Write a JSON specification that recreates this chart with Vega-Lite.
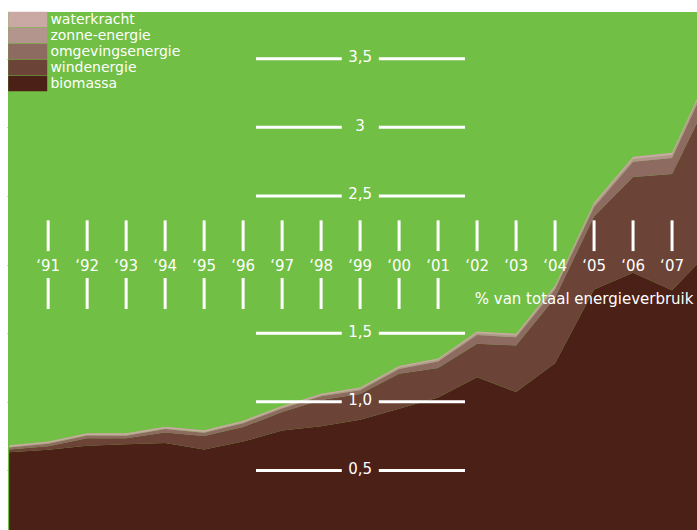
{
  "$schema": "https://vega.github.io/schema/vega-lite/v6.json",
  "width": 689,
  "height": 518,
  "autosize": {"type": "none"},
  "padding": {"left": 8, "top": 12, "right": 0, "bottom": 0},
  "background": "white",
  "config": {
    "view": {"fill": "#71bf44", "stroke": null},
    "font": "DejaVu Sans"
  },
  "datasets": {
    "aandeel": [
      {"jaar": 1990, "bron": "biomassa", "waarde": 0.633}, {"jaar": 1990, "bron": "windenergie", "waarde": 0.020}, {"jaar": 1990, "bron": "omgevingsenergie", "waarde": 0.014}, {"jaar": 1990, "bron": "zonne-energie", "waarde": 0.004}, {"jaar": 1990, "bron": "waterkracht", "waarde": 0.012},
      {"jaar": 1991, "bron": "biomassa", "waarde": 0.651}, {"jaar": 1991, "bron": "windenergie", "waarde": 0.026}, {"jaar": 1991, "bron": "omgevingsenergie", "waarde": 0.018}, {"jaar": 1991, "bron": "zonne-energie", "waarde": 0.004}, {"jaar": 1991, "bron": "waterkracht", "waarde": 0.012},
      {"jaar": 1992, "bron": "biomassa", "waarde": 0.680}, {"jaar": 1992, "bron": "windenergie", "waarde": 0.055}, {"jaar": 1992, "bron": "omgevingsenergie", "waarde": 0.019}, {"jaar": 1992, "bron": "zonne-energie", "waarde": 0.004}, {"jaar": 1992, "bron": "waterkracht", "waarde": 0.012},
      {"jaar": 1993, "bron": "biomassa", "waarde": 0.690}, {"jaar": 1993, "bron": "windenergie", "waarde": 0.045}, {"jaar": 1993, "bron": "omgevingsenergie", "waarde": 0.018}, {"jaar": 1993, "bron": "zonne-energie", "waarde": 0.005}, {"jaar": 1993, "bron": "waterkracht", "waarde": 0.012},
      {"jaar": 1994, "bron": "biomassa", "waarde": 0.700}, {"jaar": 1994, "bron": "windenergie", "waarde": 0.076}, {"jaar": 1994, "bron": "omgevingsenergie", "waarde": 0.025}, {"jaar": 1994, "bron": "zonne-energie", "waarde": 0.005}, {"jaar": 1994, "bron": "waterkracht", "waarde": 0.012},
      {"jaar": 1995, "bron": "biomassa", "waarde": 0.653}, {"jaar": 1995, "bron": "windenergie", "waarde": 0.097}, {"jaar": 1995, "bron": "omgevingsenergie", "waarde": 0.025}, {"jaar": 1995, "bron": "zonne-energie", "waarde": 0.005}, {"jaar": 1995, "bron": "waterkracht", "waarde": 0.012},
      {"jaar": 1996, "bron": "biomassa", "waarde": 0.710}, {"jaar": 1996, "bron": "windenergie", "waarde": 0.106}, {"jaar": 1996, "bron": "omgevingsenergie", "waarde": 0.028}, {"jaar": 1996, "bron": "zonne-energie", "waarde": 0.006}, {"jaar": 1996, "bron": "waterkracht", "waarde": 0.012},
      {"jaar": 1997, "bron": "biomassa", "waarde": 0.791}, {"jaar": 1997, "bron": "windenergie", "waarde": 0.134}, {"jaar": 1997, "bron": "omgevingsenergie", "waarde": 0.027}, {"jaar": 1997, "bron": "zonne-energie", "waarde": 0.006}, {"jaar": 1997, "bron": "waterkracht", "waarde": 0.012},
      {"jaar": 1998, "bron": "biomassa", "waarde": 0.821}, {"jaar": 1998, "bron": "windenergie", "waarde": 0.193}, {"jaar": 1998, "bron": "omgevingsenergie", "waarde": 0.026}, {"jaar": 1998, "bron": "zonne-energie", "waarde": 0.007}, {"jaar": 1998, "bron": "waterkracht", "waarde": 0.012},
      {"jaar": 1999, "bron": "biomassa", "waarde": 0.869}, {"jaar": 1999, "bron": "windenergie", "waarde": 0.188}, {"jaar": 1999, "bron": "omgevingsenergie", "waarde": 0.028}, {"jaar": 1999, "bron": "zonne-energie", "waarde": 0.008}, {"jaar": 1999, "bron": "waterkracht", "waarde": 0.012},
      {"jaar": 2000, "bron": "biomassa", "waarde": 0.950}, {"jaar": 2000, "bron": "windenergie", "waarde": 0.255}, {"jaar": 2000, "bron": "omgevingsenergie", "waarde": 0.034}, {"jaar": 2000, "bron": "zonne-energie", "waarde": 0.009}, {"jaar": 2000, "bron": "waterkracht", "waarde": 0.012},
      {"jaar": 2001, "bron": "biomassa", "waarde": 1.032}, {"jaar": 2001, "bron": "windenergie", "waarde": 0.214}, {"jaar": 2001, "bron": "omgevingsenergie", "waarde": 0.048}, {"jaar": 2001, "bron": "zonne-energie", "waarde": 0.010}, {"jaar": 2001, "bron": "waterkracht", "waarde": 0.012},
      {"jaar": 2002, "bron": "biomassa", "waarde": 1.178}, {"jaar": 2002, "bron": "windenergie", "waarde": 0.245}, {"jaar": 2002, "bron": "omgevingsenergie", "waarde": 0.064}, {"jaar": 2002, "bron": "zonne-energie", "waarde": 0.012}, {"jaar": 2002, "bron": "waterkracht", "waarde": 0.013},
      {"jaar": 2003, "bron": "biomassa", "waarde": 1.071}, {"jaar": 2003, "bron": "windenergie", "waarde": 0.340}, {"jaar": 2003, "bron": "omgevingsenergie", "waarde": 0.059}, {"jaar": 2003, "bron": "zonne-energie", "waarde": 0.013}, {"jaar": 2003, "bron": "waterkracht", "waarde": 0.013},
      {"jaar": 2004, "bron": "biomassa", "waarde": 1.280}, {"jaar": 2004, "bron": "windenergie", "waarde": 0.478}, {"jaar": 2004, "bron": "omgevingsenergie", "waarde": 0.062}, {"jaar": 2004, "bron": "zonne-energie", "waarde": 0.015}, {"jaar": 2004, "bron": "waterkracht", "waarde": 0.013},
      {"jaar": 2005, "bron": "biomassa", "waarde": 1.818}, {"jaar": 2005, "bron": "windenergie", "waarde": 0.532}, {"jaar": 2005, "bron": "omgevingsenergie", "waarde": 0.069}, {"jaar": 2005, "bron": "zonne-energie", "waarde": 0.017}, {"jaar": 2005, "bron": "waterkracht", "waarde": 0.014},
      {"jaar": 2006, "bron": "biomassa", "waarde": 1.940}, {"jaar": 2006, "bron": "windenergie", "waarde": 0.698}, {"jaar": 2006, "bron": "omgevingsenergie", "waarde": 0.111}, {"jaar": 2006, "bron": "zonne-energie", "waarde": 0.020}, {"jaar": 2006, "bron": "waterkracht", "waarde": 0.016},
      {"jaar": 2007, "bron": "biomassa", "waarde": 1.812}, {"jaar": 2007, "bron": "windenergie", "waarde": 0.848}, {"jaar": 2007, "bron": "omgevingsenergie", "waarde": 0.116}, {"jaar": 2007, "bron": "zonne-energie", "waarde": 0.022}, {"jaar": 2007, "bron": "waterkracht", "waarde": 0.017},
      {"jaar": 2008, "bron": "biomassa", "waarde": 2.110}, {"jaar": 2008, "bron": "windenergie", "waarde": 1.130}, {"jaar": 2008, "bron": "omgevingsenergie", "waarde": 0.148}, {"jaar": 2008, "bron": "zonne-energie", "waarde": 0.024}, {"jaar": 2008, "bron": "waterkracht", "waarde": 0.018}
    ],
    "schaal": [
      {"waarde": 0.5, "label": "0,5"},
      {"waarde": 1.0, "label": "1,0"},
      {"waarde": 1.5, "label": "1,5"},
      {"waarde": 2.5, "label": "2,5"},
      {"waarde": 3.0, "label": "3"},
      {"waarde": 3.5, "label": "3,5"}
    ],
    "jaren": [
      {"jaar": 1991, "label": "‘91"}, {"jaar": 1992, "label": "‘92"}, {"jaar": 1993, "label": "‘93"},
      {"jaar": 1994, "label": "‘94"}, {"jaar": 1995, "label": "‘95"}, {"jaar": 1996, "label": "‘96"},
      {"jaar": 1997, "label": "‘97"}, {"jaar": 1998, "label": "‘98"}, {"jaar": 1999, "label": "‘99"},
      {"jaar": 2000, "label": "‘00"}, {"jaar": 2001, "label": "‘01"}, {"jaar": 2002, "label": "‘02"},
      {"jaar": 2003, "label": "‘03"}, {"jaar": 2004, "label": "‘04"}, {"jaar": 2005, "label": "‘05"},
      {"jaar": 2006, "label": "‘06"}, {"jaar": 2007, "label": "‘07"}
    ],
    "eenheid": [
      {"tekst": "% van totaal energieverbruik"}
    ]
  },
  "encoding": {
    "x": {"type": "quantitative", "scale": {"domain": [1989.97, 2007.64], "nice": false, "zero": false}, "axis": null},
    "y": {"type": "quantitative", "scale": {"domain": [0.066, 3.84], "nice": false, "zero": false}}
  },
  "layer": [
    {
      "data": {"name": "aandeel"},
      "transform": [
        {"calculate": "indexof(['biomassa', 'windenergie', 'omgevingsenergie', 'zonne-energie', 'waterkracht'], datum.bron)", "as": "stapelvolgorde"}
      ],
      "mark": {"type": "area", "clip": true, "interpolate": "linear", "opacity": 1},
      "encoding": {
        "x": {"field": "jaar", "type": "quantitative"},
        "y": {"field": "waarde", "type": "quantitative", "stack": "zero",
          "axis": {"values": [0.5, 1, 1.5, 2, 2.5, 3, 3.5], "labels": false, "domain": false, "grid": false, "title": null, "ticks": true, "tickSize": 1, "tickWidth": 1, "tickColor": "#71bf44"}},
        "order": {"field": "stapelvolgorde", "type": "quantitative", "sort": "ascending"},
        "color": {
          "field": "bron", "type": "nominal",
          "sort": ["waterkracht", "zonne-energie", "omgevingsenergie", "windenergie", "biomassa"],
          "scale": {"domain": ["waterkracht", "zonne-energie", "omgevingsenergie", "windenergie", "biomassa"], "range": ["#caa9a4", "#b4958e", "#8e6b61", "#6b4337", "#4b2017"]},
          "legend": {
            "orient": "none", "legendX": 0, "legendY": 0, "title": null, "padding": 0, "offset": 0,
            "symbolType": "M-1,-1.05H4.342V1.05H-1Z", "symbolSize": 213.16, "symbolStrokeWidth": 0, "symbolOpacity": 1,
            "symbolStrokeColor": "transparent",
            "rowPadding": -4.25,
            "labelOffset": 27.4, "labelColor": "white", "labelFont": "DejaVu Sans", "labelFontSize": 14, "labelLimit": 300
          }
        }
      }
    },
    {
      "data": {"name": "schaal"},
      "mark": {"type": "rule", "color": "white", "strokeWidth": 3},
      "encoding": {
        "x": {"datum": 1996.33},
        "x2": {"datum": 1998.53},
        "y": {"field": "waarde", "type": "quantitative"}
      }
    },
    {
      "data": {"name": "schaal"},
      "mark": {"type": "rule", "color": "white", "strokeWidth": 3},
      "encoding": {
        "x": {"datum": 1999.48},
        "x2": {"datum": 2001.69},
        "y": {"field": "waarde", "type": "quantitative"}
      }
    },
    {
      "data": {"name": "schaal"},
      "mark": {"type": "text", "color": "white", "fontSize": 15, "align": "center", "baseline": "alphabetic", "dy": 3.5},
      "encoding": {
        "x": {"datum": 1999},
        "y": {"field": "waarde", "type": "quantitative"},
        "text": {"field": "label"}
      }
    },
    {
      "data": {"name": "jaren"},
      "mark": {"type": "rule", "color": "white", "strokeWidth": 3},
      "encoding": {
        "x": {"field": "jaar", "type": "quantitative"},
        "y": {"datum": 2.098},
        "y2": {"datum": 2.322}
      }
    },
    {
      "data": {"name": "jaren"},
      "transform": [{"filter": "datum.jaar <= 2001"}],
      "mark": {"type": "rule", "color": "white", "strokeWidth": 3},
      "encoding": {
        "x": {"field": "jaar", "type": "quantitative"},
        "y": {"datum": 1.676},
        "y2": {"datum": 1.902}
      }
    },
    {
      "data": {"name": "jaren"},
      "mark": {"type": "text", "color": "white", "fontSize": 15, "align": "center", "baseline": "alphabetic"},
      "encoding": {
        "x": {"field": "jaar", "type": "quantitative"},
        "y": {"datum": 1.95},
        "text": {"field": "label"}
      }
    },
    {
      "data": {"name": "eenheid"},
      "mark": {"type": "text", "color": "white", "fontSize": 15, "align": "left", "baseline": "alphabetic"},
      "encoding": {
        "x": {"datum": 2001.94},
        "y": {"datum": 1.71},
        "text": {"field": "tekst"}
      }
    }
  ]
}
